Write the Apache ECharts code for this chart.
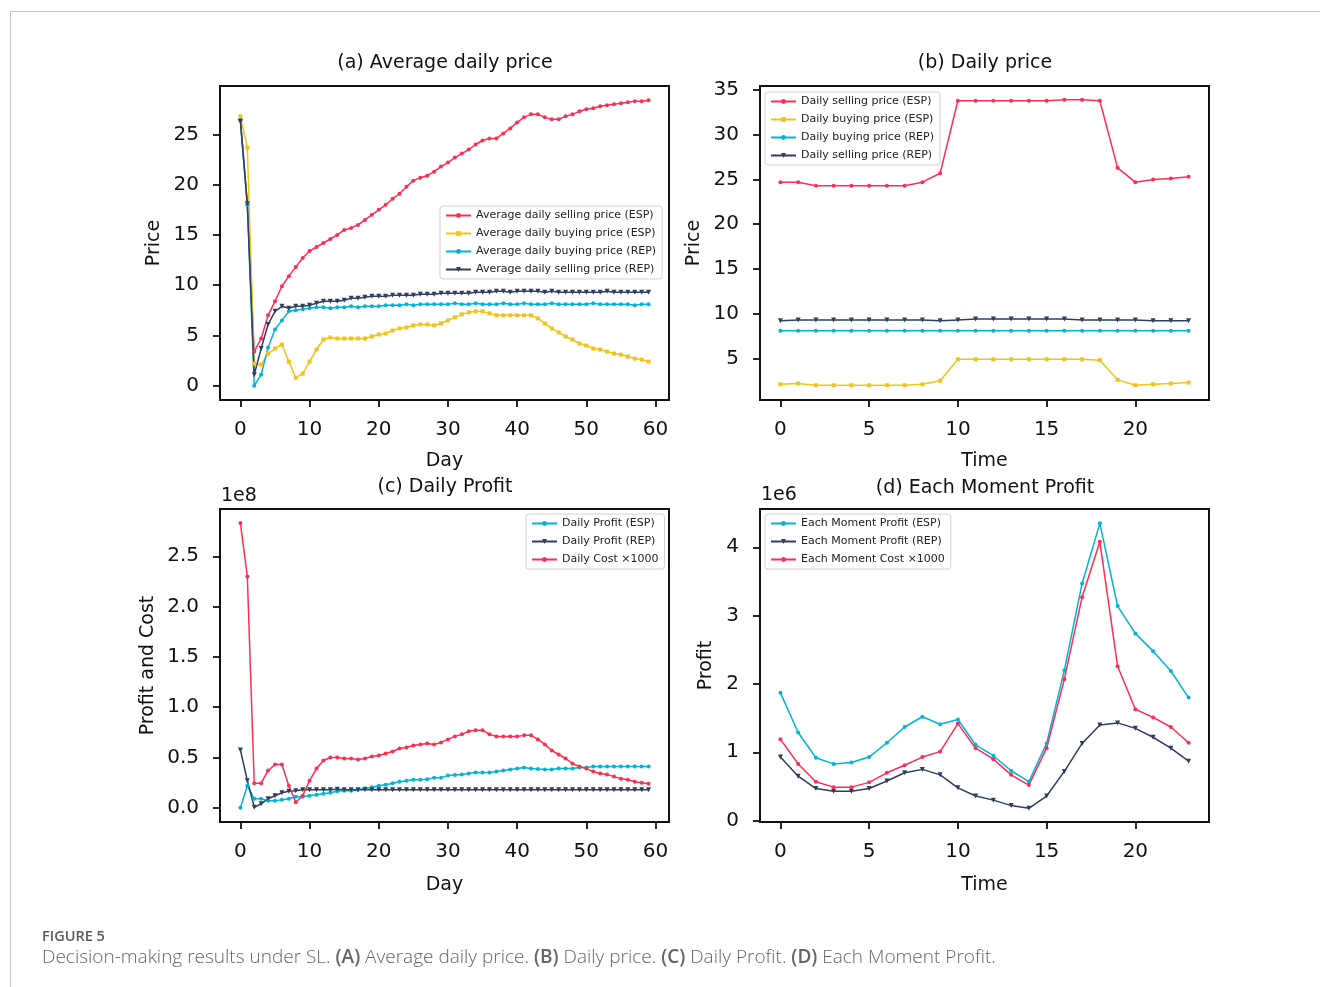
<!DOCTYPE html>
<html>
<head>
<meta charset="utf-8">
<title>Figure 5</title>
<script src="https://cdn.jsdelivr.net/npm/echarts@6/dist/echarts.min.js"></script>
<style>
  html, body { margin: 0; padding: 0; background: #fff; }
  #chart { position: absolute; left: 0; top: 0; width: 1320px; height: 987px; }
  #frame { position: absolute; left: 10px; top: 11px; right: 0; bottom: 0; border-top: 1px solid #c6c6c6; border-left: 1px solid #c6c6c6; pointer-events: none; }
  .cap { position: absolute; left: 42px; font-family: 'Open Sans', sans-serif; color: #666; white-space: nowrap; }
  #figno { top: 926px; font-size: 14.5px; font-weight: 600; color: #5a5a5a; }
  #figtxt { top: 943px; font-size: 19px; font-weight: 300; }
  #figtxt b { font-weight: 600; }
</style>
</head>
<body>
<div id="chart"></div>
<div id="frame"></div>
<div class="cap" id="figno">FIGURE 5</div>
<div class="cap" id="figtxt">Decision-making results under SL. <b>(A)</b> Average daily price. <b>(B)</b> Daily price. <b>(C)</b> Daily Profit. <b>(D)</b> Each Moment Profit.</div>
<script>
//(a) 平均日价格，60天
const avgSellESP = [26.5, 18.0, 3.4, 4.7, 7.0, 8.4, 9.9, 10.9, 11.8, 12.7, 13.4, 13.8, 14.2, 14.6, 15.0, 15.5, 15.7, 16.0, 16.5, 17.0, 17.5, 18.0, 18.6, 19.1, 19.8, 20.4, 20.7, 20.9, 21.3, 21.8, 22.2, 22.7, 23.1, 23.5, 24.0, 24.4, 24.6, 24.6, 25.1, 25.6, 26.2, 26.7, 27.0, 27.0, 26.7, 26.5, 26.5, 26.8, 27.0, 27.3, 27.5, 27.6, 27.8, 27.9, 28.0, 28.1, 28.2, 28.3, 28.3, 28.4];
const avgBuyESP = [26.8, 23.7, 2.2, 2.1, 3.2, 3.7, 4.1, 2.4, 0.8, 1.2, 2.4, 3.6, 4.6, 4.8, 4.7, 4.7, 4.7, 4.7, 4.7, 4.9, 5.1, 5.2, 5.5, 5.7, 5.8, 6.0, 6.1, 6.1, 6.0, 6.2, 6.5, 6.8, 7.1, 7.3, 7.4, 7.4, 7.2, 7.0, 7.0, 7.0, 7.0, 7.0, 7.0, 6.7, 6.2, 5.7, 5.3, 4.9, 4.6, 4.2, 4.0, 3.7, 3.6, 3.4, 3.2, 3.1, 2.9, 2.7, 2.6, 2.4];
const avgBuyREP = [26.4, 18.0, 0.0, 1.1, 3.8, 5.6, 6.5, 7.4, 7.5, 7.6, 7.7, 7.8, 7.8, 7.7, 7.8, 7.8, 7.9, 7.8, 7.9, 7.9, 7.9, 8.0, 8.0, 8.0, 8.1, 8.0, 8.1, 8.1, 8.1, 8.1, 8.1, 8.2, 8.1, 8.1, 8.2, 8.1, 8.1, 8.1, 8.2, 8.1, 8.1, 8.2, 8.1, 8.1, 8.1, 8.2, 8.1, 8.1, 8.1, 8.1, 8.1, 8.2, 8.1, 8.1, 8.1, 8.1, 8.1, 8.0, 8.1, 8.1];
const avgSellREP = [26.3, 18.1, 1.1, 3.7, 6.1, 7.4, 7.9, 7.7, 7.9, 7.9, 8.0, 8.2, 8.4, 8.4, 8.4, 8.5, 8.7, 8.7, 8.8, 8.9, 8.9, 8.9, 9.0, 9.0, 9.0, 9.0, 9.1, 9.1, 9.1, 9.2, 9.2, 9.2, 9.2, 9.2, 9.3, 9.3, 9.3, 9.4, 9.4, 9.3, 9.4, 9.4, 9.4, 9.4, 9.3, 9.4, 9.3, 9.3, 9.3, 9.3, 9.3, 9.3, 9.3, 9.4, 9.3, 9.3, 9.3, 9.3, 9.3, 9.3];

//(b) 日内价格，24时刻
const daySellESP = [24.7, 24.7, 24.3, 24.3, 24.3, 24.3, 24.3, 24.3, 24.7, 25.7, 33.8, 33.8, 33.8, 33.8, 33.8, 33.8, 33.9, 33.9, 33.8, 26.3, 24.7, 25.0, 25.1, 25.3];
const dayBuyESP = [2.1, 2.2, 2.0, 2.0, 2.0, 2.0, 2.0, 2.0, 2.1, 2.5, 4.9, 4.9, 4.9, 4.9, 4.9, 4.9, 4.9, 4.9, 4.8, 2.6, 2.0, 2.1, 2.2, 2.3];
const dayBuyREP = [8.1, 8.1, 8.1, 8.1, 8.1, 8.1, 8.1, 8.1, 8.1, 8.1, 8.1, 8.1, 8.1, 8.1, 8.1, 8.1, 8.1, 8.1, 8.1, 8.1, 8.1, 8.1, 8.1, 8.1];
const daySellREP = [9.2, 9.3, 9.3, 9.3, 9.3, 9.3, 9.3, 9.3, 9.3, 9.2, 9.3, 9.4, 9.4, 9.4, 9.4, 9.4, 9.4, 9.3, 9.3, 9.3, 9.3, 9.2, 9.2, 9.2];

//(c) 日利润，单位 1e8
const profitESP = [0.0, 0.22, 0.09, 0.09, 0.07, 0.07, 0.08, 0.09, 0.11, 0.11, 0.12, 0.13, 0.14, 0.15, 0.165, 0.17, 0.17, 0.18, 0.195, 0.205, 0.22, 0.23, 0.245, 0.26, 0.27, 0.28, 0.28, 0.285, 0.30, 0.30, 0.32, 0.325, 0.33, 0.34, 0.35, 0.35, 0.35, 0.36, 0.37, 0.38, 0.39, 0.40, 0.39, 0.385, 0.38, 0.38, 0.39, 0.39, 0.39, 0.40, 0.40, 0.41, 0.41, 0.41, 0.41, 0.41, 0.41, 0.41, 0.41, 0.41];
const profitREP = [0.575, 0.27, 0.005, 0.04, 0.09, 0.12, 0.15, 0.165, 0.17, 0.18, 0.18, 0.18, 0.18, 0.18, 0.185, 0.18, 0.18, 0.18, 0.18, 0.18, 0.18, 0.18, 0.18, 0.18, 0.18, 0.18, 0.18, 0.18, 0.18, 0.18, 0.18, 0.18, 0.18, 0.18, 0.18, 0.18, 0.18, 0.18, 0.18, 0.18, 0.18, 0.18, 0.18, 0.18, 0.18, 0.18, 0.18, 0.18, 0.18, 0.18, 0.18, 0.18, 0.18, 0.18, 0.18, 0.18, 0.18, 0.18, 0.18, 0.18];
const costDaily = [2.83, 2.30, 0.245, 0.245, 0.37, 0.43, 0.43, 0.22, 0.056, 0.12, 0.27, 0.39, 0.47, 0.50, 0.50, 0.49, 0.49, 0.48, 0.49, 0.51, 0.52, 0.54, 0.56, 0.59, 0.60, 0.62, 0.63, 0.64, 0.63, 0.65, 0.68, 0.71, 0.73, 0.76, 0.77, 0.77, 0.73, 0.71, 0.71, 0.71, 0.71, 0.72, 0.72, 0.68, 0.63, 0.57, 0.53, 0.49, 0.44, 0.41, 0.39, 0.36, 0.34, 0.33, 0.31, 0.29, 0.28, 0.26, 0.25, 0.24];

//(d) 每时刻利润，单位 1e6
const momentESP = [1.87, 1.29, 0.92, 0.83, 0.85, 0.93, 1.14, 1.37, 1.52, 1.41, 1.48, 1.11, 0.95, 0.73, 0.57, 1.13, 2.20, 3.47, 4.35, 3.14, 2.74, 2.48, 2.19, 1.80];
const momentREP = [0.93, 0.65, 0.47, 0.43, 0.43, 0.47, 0.58, 0.70, 0.75, 0.67, 0.48, 0.36, 0.30, 0.22, 0.18, 0.36, 0.72, 1.13, 1.40, 1.43, 1.35, 1.22, 1.06, 0.87];
const momentCost = [1.19, 0.83, 0.57, 0.49, 0.49, 0.56, 0.70, 0.81, 0.93, 1.01, 1.42, 1.06, 0.90, 0.67, 0.52, 1.06, 2.07, 3.27, 4.08, 2.26, 1.63, 1.51, 1.37, 1.14];

//刻度
const dayTicks = [0, 10, 20, 30, 40, 50, 60];
const timeTicks = [0, 5, 10, 15, 20];
const priceTicksA = [0, 5, 10, 15, 20, 25];
const priceTicksB = [5, 10, 15, 20, 25, 30, 35];
const profitTicksC = [0, 0.5, 1.0, 1.5, 2.0, 2.5];
const profitTicksD = [0, 1, 2, 3, 4];

//样式
const FONT = 'DejaVu Sans';
const INK = '#111';
const RED = '#ff2d52', YELLOW = '#f0c419', CYAN = '#00b4d8', NAVY = '#2f3e5f';
const TRI_DOWN = 'path://M0,0 L10,0 L5,9 Z';

//四个子图的布局
const grids = [
  { left: 220, top: 86, width: 449, height: 314 },
  { left: 760, top: 86, width: 449, height: 314 },
  { left: 220, top: 509, width: 449, height: 313 },
  { left: 760, top: 509, width: 449, height: 313 }
].map(g => Object.assign(g, { show: true, borderColor: INK, borderWidth: 2, backgroundColor: 'transparent' }));

//坐标轴
function axis(gridIndex, min, max, ticks, name, nameGap, fmt, isY) {
  return {
    type: 'value', gridIndex, min, max, name, nameGap,
    nameLocation: 'middle',
    nameTextStyle: { fontFamily: FONT, fontSize: 19, color: INK },
    axisLine: { show: true, onZero: false, lineStyle: { color: INK, width: 2 } },
    axisTick: { show: true, inside: false, length: 7, lineStyle: { color: INK, width: 1.8 }, customValues: ticks },
    axisLabel: { fontFamily: FONT, fontSize: 20, color: INK, margin: isY ? 21 : 20, customValues: ticks, formatter: fmt },
    splitLine: { show: false }
  };
}

const xAxis = [
  axis(0, -2.95, 61.95, dayTicks, 'Day', 52),
  axis(1, -1.15, 24.15, timeTicks, 'Time', 52),
  axis(2, -2.95, 61.95, dayTicks, 'Day', 54),
  axis(3, -1.15, 24.15, timeTicks, 'Time', 54)
];
const yAxis = [
  axis(0, -1.42, 29.82, priceTicksA, 'Price', 56, null, true),
  axis(1, 0.35, 35.45, priceTicksB, 'Price', 56, null, true),
  axis(2, -0.141, 2.97, profitTicksC, 'Profit and Cost', 62, v => v.toFixed(1), true),
  axis(3, -0.02, 4.56, profitTicksD, 'Profit', 44, null, true)
];

//折线
function line(name, values, idx, color, symbol, size) {
  return {
    name, type: 'line', xAxisIndex: idx, yAxisIndex: idx,
    data: values.map((v, i) => [i, v]),
    symbol, symbolSize: size || 4,
    showSymbol: true,
    lineStyle: { color, width: 1.5 },
    itemStyle: { color },
    animation: false
  };
}

const series = [
  line('Average daily selling price (ESP)', avgSellESP, 0, RED, 'circle', 4),
  line('Average daily buying price (ESP)', avgBuyESP, 0, YELLOW, 'rect', 4),
  line('Average daily buying price (REP)', avgBuyREP, 0, CYAN, 'circle', 4),
  line('Average daily selling price (REP)', avgSellREP, 0, NAVY, TRI_DOWN, 5),
  line('Daily selling price (ESP)', daySellESP, 1, RED, 'circle', 4),
  line('Daily buying price (ESP)', dayBuyESP, 1, YELLOW, 'rect', 4),
  line('Daily buying price (REP)', dayBuyREP, 1, CYAN, 'circle', 4),
  line('Daily selling price (REP)', daySellREP, 1, NAVY, TRI_DOWN, 5),
  line('Daily Profit (ESP)', profitESP, 2, CYAN, 'circle', 4),
  line('Daily Profit (REP)', profitREP, 2, NAVY, TRI_DOWN, 5),
  line('Daily Cost \u00d71000', costDaily, 2, RED, 'circle', 4),
  line('Each Moment Profit (ESP)', momentESP, 3, CYAN, 'circle', 4),
  line('Each Moment Profit (REP)', momentREP, 3, NAVY, TRI_DOWN, 5),
  line('Each Moment Cost \u00d71000', momentCost, 3, RED, 'circle', 4)
];

//图例
function legend(names, left, top) {
  return {
    data: names, left, top, orient: 'vertical',
    itemWidth: 25, itemHeight: 6, itemGap: 7,
    padding: [4, 6, 4, 5],
    backgroundColor: 'rgba(255,255,255,0.85)',
    borderColor: '#d2d2d2', borderWidth: 1, borderRadius: 3,
    selectedMode: false,
    textStyle: { fontFamily: FONT, fontSize: 11, color: '#222' }
  };
}

const legends = [
  legend(series.slice(0, 4).map(s => s.name), 440, 206),
  legend(series.slice(4, 8).map(s => s.name), 765, 92),
  legend(series.slice(8, 11).map(s => s.name), 526, 514),
  legend(series.slice(11, 14).map(s => s.name), 765, 514)
];

//标题和量级文字
function text(str, x, y, align, size) {
  return {
    type: 'text', x, y,
    style: { text: str, fontFamily: FONT, fontSize: size || 19, fill: INK, align: align || 'center', verticalAlign: 'middle' }
  };
}

const graphic = [
  text('(a) Average daily price', 445, 63),
  text('(b) Daily price', 985, 63),
  text('(c) Daily Profit', 445, 487),
  text('(d) Each Moment Profit', 985, 488),
  text('1e8', 221, 496, 'left'),
  text('1e6', 761, 495, 'left')
];

const myChart = echarts.init(document.getElementById('chart'), null, { renderer: 'canvas' });
myChart.setOption({
  backgroundColor: 'transparent',
  animation: false,
  grid: grids,
  xAxis,
  yAxis,
  legend: legends,
  series,
  graphic
});
</script>
</body>
</html>
